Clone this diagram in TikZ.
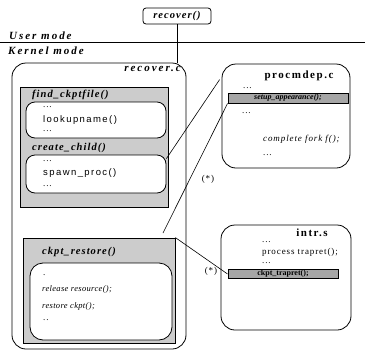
\documentclass[tikz,border=0pt]{standalone}
\usepackage{fontspec}
\setmainfont{Liberation Serif}
\setsansfont{Liberation Sans}
\usetikzlibrary{calc}
\begin{document}
\begin{tikzpicture}[x=1pt,y=-1pt,
  box/.style={draw,line width=0.8pt,inner sep=0pt},
  filebox/.style={box,rounded corners=14pt,fill=white},
  graybox/.style={box,fill=gray!40},
  innerbox/.style={box,rounded corners=9pt,fill=white},
  darkbar/.style={box,fill=gray!70,line width=0.9pt},
  hdr/.style={font=\fontsize{10.5}{11}\selectfont\bfseries\itshape\addfontfeature{LetterSpace=10},inner sep=0pt},
  mhdr/.style={font=\fontsize{11}{12}\selectfont\bfseries\itshape\addfontfeature{LetterSpace=18},inner sep=0pt},
  fhdr/.style={font=\fontsize{11}{12}\selectfont\bfseries\addfontfeature{LetterSpace=14},inner sep=0pt},
  code/.style={font=\fontsize{9}{10}\selectfont\addfontfeature{LetterSpace=10},inner sep=0pt,anchor=west},
  icode/.style={font=\fontsize{9}{10}\selectfont\itshape\addfontfeature{LetterSpace=10},inner sep=0pt,anchor=west},
  ncode/.style={font=\fontsize{8.5}{10}\selectfont\itshape\addfontfeature{LetterSpace=4},inner sep=0pt,anchor=west},
  scode/.style={font=\sffamily\fontsize{9.5}{10}\selectfont\addfontfeature{LetterSpace=15},inner sep=0pt,anchor=west},
  link/.style={line width=0.6pt}]
\useasboundingbox (0,0) rectangle (365,354);
% mode line
\coordinate (ml) at (0,42);
\coordinate (mr) at (365,42);
\draw[line width=0.7pt] (ml) -- (mr);
\node[mhdr,anchor=west] (um) at (9,36) {User mode};
\node[mhdr,anchor=west] (km) at (8,51) {Kernel mode};
% recover()
\node[box,rounded corners=3pt,minimum width=68pt,minimum height=16pt,hdr,inner sep=2pt] (rec) at (177,16) {recover()};
% recover.c
\node[filebox,minimum width=174pt,minimum height=286pt] (recc) at (99,206) {};
\draw[line width=0.6pt] (rec.south) -- (rec.south |- recc.north);
\node[mhdr,anchor=east] (recct) at (181,69) {recover.c};
\node[graybox,minimum width=148pt,minimum height=120pt] (g1) at (94,147) {};
\node[hdr,anchor=west] (fc) at (32,95) {find\_ckptfile()};
\node[innerbox,minimum width=140pt,minimum height=36pt] (i1) at (96,120) {};
\node[code] (d1) at (43,107) {...};
\node[scode] (lk) at (43,120) {lookupname()};
\node[code] (d2) at (43,131) {...};
\node[hdr,anchor=west] (cc) at (32,148) {create\_child()};
\node[innerbox,minimum width=140pt,minimum height=38pt] (i2) at (96,174) {};
\node[code] (d3) at (43,161) {...};
\node[scode] (sp) at (43,173) {spawn\_proc()};
\node[code] (d4) at (43,186) {...};
\node[graybox,minimum width=152pt,minimum height=105pt] (g2) at (99,290.5) {};
\node[hdr,anchor=west] (cr) at (42,252) {ckpt\_restore()};
\node[innerbox,rounded corners=13pt,minimum width=142pt,minimum height=77pt] (i3) at (101,301.5) {};
\node[code] (d5) at (43,275) {.};
\node[ncode] (rr) at (42,289) {release resource();};
\node[ncode] (rc) at (42,306) {restore ckpt();};
\node[code] (d6) at (43,320) {..};
% procmdep.c
\node[filebox,minimum width=128pt,minimum height=104pt] (pm) at (286,116) {};
\node[fhdr] (pmt) at (299,76) {procmdep.c};
\node[code] (d7) at (243,88) {...};
\node[darkbar,minimum width=120pt,minimum height=10pt,font=\fontsize{8}{8}\selectfont\bfseries\itshape] (b1) at (288,98) {setup\_appearance();};
\node[code] (d8) at (242,113) {...};
\node[icode] (cf) at (263,139) {complete fork f();};
\node[code] (d9) at (263,155) {...};
% intr.s
\node[filebox,minimum width=130pt,minimum height=105pt] (is) at (286,277.5) {};
\node[fhdr] (ist) at (312,233) {intr.s};
\node[code] (d10) at (262,242) {...};
\node[code] (pt) at (262,252) {process trapret();};
\node[code] (d11) at (262,263) {...};
\node[darkbar,minimum width=110pt,minimum height=9pt,font=\fontsize{8}{8}\selectfont\bfseries] (b2) at (283,274) {ckpt\_trapret();};
% connectors
\coordinate (c1) at ($(i2.north east)+(0,4)$);
\coordinate (c2) at ($(pm.north west)+(-2,16)$);
\draw[link] (c1) -- (c2);
\coordinate (c3) at (163,233);
\draw[link] (b1.south west) -- (c3);
\draw[link] (g2.north east) -- (b2.west);
\node[code,anchor=center] (s1) at (208,179) {(*)};
\node[code,anchor=center] (s2) at (211,271) {(*)};
\end{tikzpicture}
\end{document}
